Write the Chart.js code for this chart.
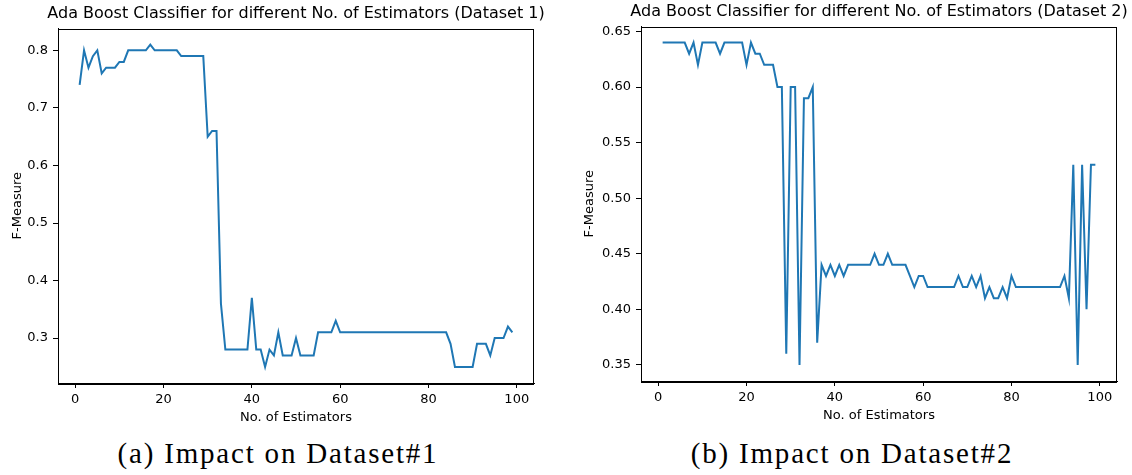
<!DOCTYPE html>
<html>
<head>
<meta charset="utf-8">
<script src="https://cdn.jsdelivr.net/npm/chart.js@4.4.0/dist/chart.umd.min.js"></script>
<style>
  body { margin: 0; background: #fff; width: 1132px; height: 475px; overflow: hidden; position: relative; }
  .panel { position: absolute; }
  .caption {
    position: absolute; top: 439px;
    font-family: 'Liberation Serif', serif; font-size: 29px; line-height: 1;
    letter-spacing: 1.8px; white-space: nowrap; color: #000;
    transform: translateX(-50%);
  }
</style>
</head>
<body>
<div class="panel" style="left:0;top:0"><canvas id="chart1" width="560" height="428"></canvas></div>
<div class="panel" style="left:560px;top:-2px"><canvas id="chart2" width="572" height="428"></canvas></div>
<div class="caption" style="left:278px">(a) Impact on Dataset#1</div>
<div class="caption" style="left:852px">(b) Impact on Dataset#2</div>

<script>
// number of estimators (x)
const estimators = [
  1, 2, 3, 4, 5, 6, 7, 8, 9, 10, 11, 12, 13, 14, 15, 16, 17, 18, 19, 20,
  21, 22, 23, 24, 25, 26, 27, 28, 29, 30, 31, 32, 33, 34, 35, 36, 37, 38, 39, 40,
  41, 42, 43, 44, 45, 46, 47, 48, 49, 50, 51, 52, 53, 54, 55, 56, 57, 58, 59, 60,
  61, 62, 63, 64, 65, 66, 67, 68, 69, 70, 71, 72, 73, 74, 75, 76, 77, 78, 79, 80,
  81, 82, 83, 84, 85, 86, 87, 88, 89, 90, 91, 92, 93, 94, 95, 96, 97, 98, 99
];

// F-measure, dataset 1
const fMeasure1 = [
  0.74, 0.80, 0.77, 0.79, 0.80, 0.76, 0.77, 0.77, 0.77, 0.78,
  0.78, 0.80, 0.80, 0.80, 0.80, 0.80, 0.81, 0.80, 0.80, 0.80,
  0.80, 0.80, 0.80, 0.79, 0.79, 0.79, 0.79, 0.79, 0.79, 0.65,
  0.66, 0.66, 0.36, 0.28, 0.28, 0.28, 0.28, 0.28, 0.28, 0.37,
  0.28, 0.28, 0.25, 0.28, 0.27, 0.31, 0.27, 0.27, 0.27, 0.30,
  0.27, 0.27, 0.27, 0.27, 0.31, 0.31, 0.31, 0.31, 0.33, 0.31,
  0.31, 0.31, 0.31, 0.31, 0.31, 0.31, 0.31, 0.31, 0.31, 0.31,
  0.31, 0.31, 0.31, 0.31, 0.31, 0.31, 0.31, 0.31, 0.31, 0.31,
  0.31, 0.31, 0.31, 0.31, 0.29, 0.25, 0.25, 0.25, 0.25, 0.25,
  0.29, 0.29, 0.29, 0.27, 0.30, 0.30, 0.30, 0.32, 0.31
];

// F-measure, dataset 2
const fMeasure2 = [
  0.64, 0.64, 0.64, 0.64, 0.64, 0.64, 0.63, 0.64, 0.62, 0.64,
  0.64, 0.64, 0.64, 0.63, 0.64, 0.64, 0.64, 0.64, 0.64, 0.62,
  0.64, 0.63, 0.63, 0.62, 0.62, 0.62, 0.60, 0.60, 0.36, 0.60,
  0.60, 0.35, 0.59, 0.59, 0.60, 0.37, 0.44, 0.43, 0.44, 0.43,
  0.44, 0.43, 0.44, 0.44, 0.44, 0.44, 0.44, 0.44, 0.45, 0.44,
  0.44, 0.45, 0.44, 0.44, 0.44, 0.44, 0.43, 0.42, 0.43, 0.43,
  0.42, 0.42, 0.42, 0.42, 0.42, 0.42, 0.42, 0.43, 0.42, 0.42,
  0.43, 0.42, 0.43, 0.41, 0.42, 0.41, 0.41, 0.42, 0.41, 0.43,
  0.42, 0.42, 0.42, 0.42, 0.42, 0.42, 0.42, 0.42, 0.42, 0.42,
  0.42, 0.43, 0.41, 0.53, 0.35, 0.53, 0.40, 0.53, 0.53
];

const xTicks = [0, 20, 40, 60, 80, 100];
const yTicks1 = [0.3, 0.4, 0.5, 0.6, 0.7, 0.8];
const yTickLabels1 = ['0.3', '0.4', '0.5', '0.6', '0.7', '0.8'];
const yTicks2 = [0.35, 0.40, 0.45, 0.50, 0.55, 0.60, 0.65];
const yTickLabels2 = ['0.35', '0.40', '0.45', '0.50', '0.55', '0.60', '0.65'];

const FONT = 'DejaVu Sans';

// box around the plot (matplotlib spines) + title centred over the axes
const framePlugin = {
  id: 'frame',
  afterDraw(chart, args, opts) {
    const a = chart.chartArea, ctx = chart.ctx;
    ctx.save();
    ctx.strokeStyle = '#000';
    ctx.lineWidth = 1;
    ctx.strokeRect(Math.round(a.left) + 0.5, Math.round(a.top) + 0.5,
                   Math.round(a.right - a.left) - 1, Math.round(a.bottom - a.top));
    ctx.fillStyle = '#000';
    ctx.font = '16px "DejaVu Sans"';
    ctx.textAlign = 'center';
    ctx.textBaseline = 'middle';
    ctx.fillText(opts.text, (a.left + a.right) / 2, opts.y);
    ctx.restore();
  }
};

function makeChart(id, values, title, yTicks, yLabels, yMin, yMax, yWidth, yTitlePad, rightPad) {
  const ctx = document.getElementById(id).getContext('2d');
  return new Chart(ctx, {
    type: 'line',
    data: {
      datasets: [{
        data: estimators.map((x, i) => ({ x: x, y: values[i] })),
        borderColor: '#1f77b4',
        borderWidth: 2,
        pointRadius: 0,
        tension: 0,
        fill: false
      }]
    },
    options: {
      responsive: false,
      animation: false,
      devicePixelRatio: 1,
      layout: { padding: { left: 0, right: rightPad, top: 28.5, bottom: 0 } },
      plugins: {
        legend: { display: false },
        tooltip: { enabled: false },
        title: { display: false },
        frame: { text: title, y: 13.5 }
      },
      scales: {
        x: {
          type: 'linear',
          min: -3.9,
          max: 103.9,
          afterBuildTicks: s => { s.ticks = xTicks.map(v => ({ value: v })); },
          afterFit: s => { s.height = 45; },
          ticks: {
            color: '#000', padding: 4,
            font: { family: FONT, size: 13 },
            callback: (v) => String(v)
          },
          grid: { display: true, drawOnChartArea: false, drawTicks: true, tickLength: 5, color: '#000', lineWidth: 1 },
          border: { display: true, color: '#000', width: 1 },
          title: {
            display: true, text: 'No. of Estimators', color: '#000',
            font: { family: FONT, size: 13 },
            padding: { top: 0, bottom: 3 }
          }
        },
        y: {
          type: 'linear',
          min: yMin,
          max: yMax,
          afterBuildTicks: s => { s.ticks = yTicks.map(v => ({ value: v })); },
          afterFit: s => { s.width = yWidth; },
          ticks: {
            color: '#000', padding: 5,
            font: { family: FONT, size: 13 },
            callback: (v, i) => yLabels[i]
          },
          grid: { display: true, drawOnChartArea: false, drawTicks: true, tickLength: 5, color: '#000', lineWidth: 1 },
          border: { display: true, color: '#000', width: 1 },
          title: {
            display: true, text: 'F-Measure', color: '#000',
            font: { family: FONT, size: 13 },
            padding: { top: yTitlePad, bottom: 0 }
          }
        }
      }
    },
    plugins: [framePlugin]
  });
}

makeChart('chart1', fMeasure1,
  'Ada Boost Classifier for different No. of Estimators (Dataset 1)',
  yTicks1, yTickLabels1, 0.222, 0.838, 58, 10, 26);

makeChart('chart2', fMeasure2,
  'Ada Boost Classifier for different No. of Estimators (Dataset 2)',
  yTicks2, yTickLabels2, 0.3355, 0.6545, 81, 22, 15);
</script>
</body>
</html>
